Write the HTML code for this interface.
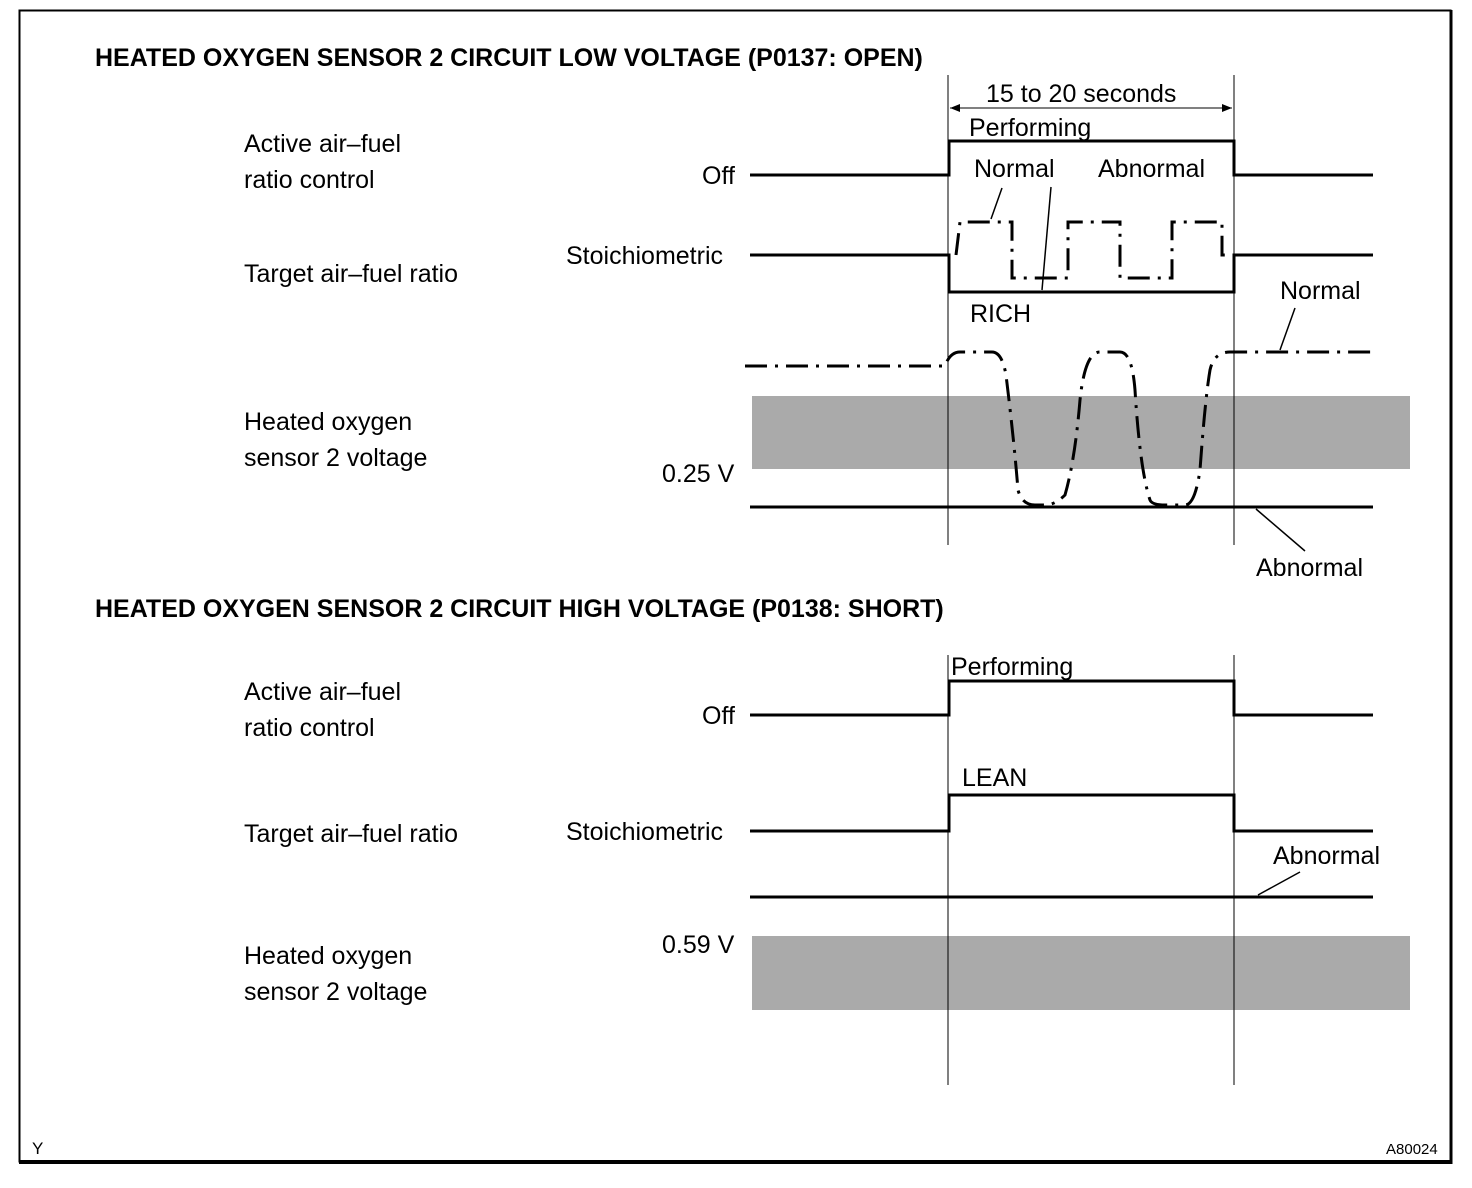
<!DOCTYPE html>
<html><head><meta charset="utf-8"><style>
html,body{margin:0;padding:0;background:#fff;}
svg{display:block;}
text{font-family:"Liberation Sans",sans-serif;font-size:25px;fill:#000;}
.b{font-weight:bold;}
</style></head><body>
<svg width="1472" height="1188" viewBox="0 0 1472 1188" xmlns="http://www.w3.org/2000/svg">
<defs>
<pattern id="dots" width="4" height="4" patternUnits="userSpaceOnUse">
<rect width="4" height="4" fill="#fff"/>
<rect x="0" y="0" width="1" height="1" fill="#000"/><rect x="2" y="1" width="1" height="1" fill="#000"/>
<rect x="1" y="2" width="1" height="1" fill="#000"/><rect x="3" y="3" width="1" height="1" fill="#000"/>
<rect x="2" y="0" width="1" height="1" fill="#000"/><rect x="0" y="2" width="1" height="1" fill="#000"/>
</pattern>
<marker id="ar" markerWidth="10" markerHeight="8" refX="10" refY="4" orient="auto" markerUnits="userSpaceOnUse">
<path d="M0,0 L10,4 L0,8 z" fill="#000"/></marker>
<marker id="al" markerWidth="10" markerHeight="8" refX="0" refY="4" orient="auto" markerUnits="userSpaceOnUse">
<path d="M10,0 L0,4 L10,8 z" fill="#000"/></marker>
</defs>
<rect x="19.5" y="10.5" width="1431" height="1151" fill="none" stroke="#000" stroke-width="2"/>
<line x1="19" y1="1162" x2="1452" y2="1162" stroke="#000" stroke-width="4"/>
<line x1="1451" y1="10" x2="1451" y2="1164" stroke="#000" stroke-width="3"/>

<g fill="#b4b4b4">
<rect x="752" y="396" width="658" height="73" fill="#aaa"/>
<rect x="752" y="936" width="658" height="74" fill="#aaa"/>
</g>

<text x="95" y="66" class="b">HEATED OXYGEN SENSOR 2 CIRCUIT LOW VOLTAGE (P0137: OPEN)</text>
<text x="95" y="617" class="b">HEATED OXYGEN SENSOR 2 CIRCUIT HIGH VOLTAGE (P0138: SHORT)</text>

<text x="244" y="152">Active air–fuel</text>
<text x="244" y="188">ratio control</text>
<text x="244" y="282">Target air–fuel ratio</text>
<text x="244" y="430">Heated oxygen</text>
<text x="244" y="466">sensor 2 voltage</text>
<text x="702" y="184">Off</text>
<text x="566" y="264">Stoichiometric</text>
<text x="662" y="482">0.25 V</text>

<text x="244" y="700">Active air–fuel</text>
<text x="244" y="736">ratio control</text>
<text x="244" y="842">Target air–fuel ratio</text>
<text x="244" y="964">Heated oxygen</text>
<text x="244" y="1000">sensor 2 voltage</text>
<text x="702" y="724">Off</text>
<text x="566" y="840">Stoichiometric</text>
<text x="662" y="953">0.59 V</text>

<!-- verticals -->
<g stroke="#000" stroke-width="1">
<line x1="948" y1="75" x2="948" y2="545"/><line x1="1234" y1="75" x2="1234" y2="545"/>
<line x1="948" y1="655" x2="948" y2="1085"/><line x1="1234" y1="655" x2="1234" y2="1085"/>
<line x1="950" y1="108" x2="1232" y2="108" marker-start="url(#al)" marker-end="url(#ar)"/>
</g>
<text x="986" y="102">15 to 20 seconds</text>
<text x="969" y="136">Performing</text>
<text x="974" y="177">Normal</text>
<text x="1098" y="177">Abnormal</text>
<text x="970" y="322">RICH</text>
<text x="1280" y="299">Normal</text>
<text x="1256" y="576">Abnormal</text>
<text x="951" y="675">Performing</text>
<text x="962" y="786">LEAN</text>
<text x="1273" y="864">Abnormal</text>
<text x="32" y="1154" style="font-size:17px">Y</text>
<text x="1386" y="1154" style="font-size:15px">A80024</text>

<g stroke="#000" stroke-width="3" fill="none">
<polyline points="750,175 949,175 949,141 1234,141 1234,175 1373,175"/>
<polyline points="750,255 949,255 949,292 1234,292 1234,255 1373,255"/>
<line x1="750" y1="507" x2="1373" y2="507"/>
<polyline points="750,715 949,715 949,681 1234,681 1234,715 1373,715"/>
<polyline points="750,831 949,831 949,795 1234,795 1234,831 1373,831"/>
<line x1="750" y1="897" x2="1373" y2="897"/>
</g>
<g stroke="#000" stroke-width="3" fill="none" stroke-dasharray="22,8,3,8">
<polyline points="956,255 960,222 1012,222 1012,278 1068,278 1068,222 1120,222 1120,278 1172,278 1172,222 1222,222 1222,255 1234,255"/>
<path d="M745,366 L945,366 Q950,352 960,352 L992,352 Q1002,352 1006,375 Q1014,440 1018,490 Q1022,505 1035,505 L1045,505 Q1055,505 1065,495 Q1075,460 1080,400 Q1085,352 1100,352 L1120,352 Q1132,352 1135,390 Q1140,470 1150,500 Q1152,505 1165,505 L1185,505 Q1195,505 1200,470 Q1205,400 1210,370 Q1214,352 1230,352 L1378,352"/>
</g>
<g stroke="#000" stroke-width="1.5">
<line x1="1002" y1="188" x2="991" y2="219"/>
<line x1="1051" y1="187" x2="1042" y2="290"/>
<line x1="1295" y1="308" x2="1280" y2="350"/>
<line x1="1256" y1="509" x2="1305" y2="551"/>
<line x1="1258" y1="895" x2="1300" y2="872"/>
</g>
</svg>
</body></html>
